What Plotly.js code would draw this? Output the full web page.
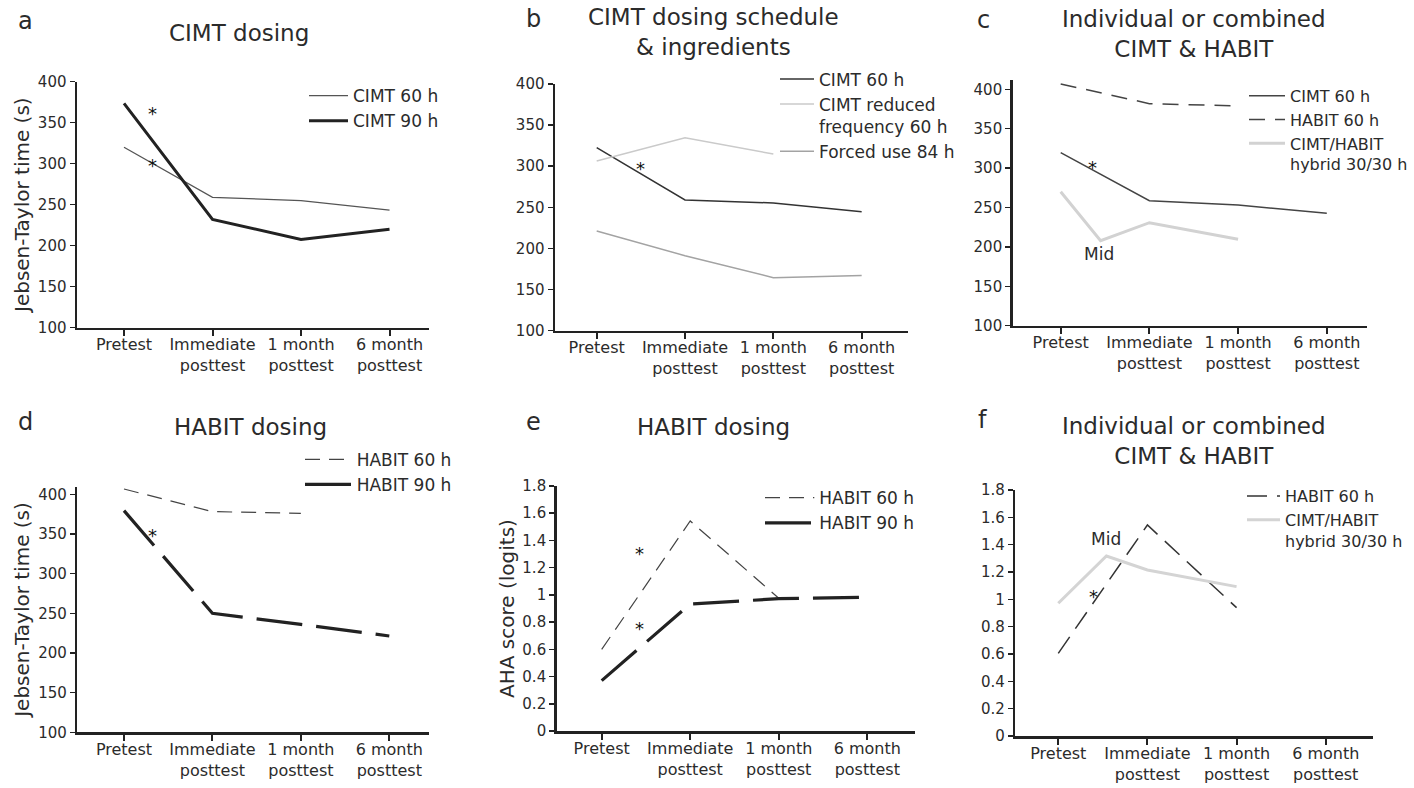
<!DOCTYPE html>
<html><head><meta charset="utf-8">
<script src="https://cdn.plot.ly/plotly-3.0.1.min.js"></script>
<style>html,body{margin:0;padding:0;background:#fff;overflow:hidden}#chart{width:1414px;height:788px}</style>
</head><body><div id="chart"></div>
<script>
// ---------- data ----------
const timepoints = [0, 1, 2, 3];
const timeLabels = ['Pretest', 'Immediate<br>posttest', '1 month<br>posttest', '6 month<br>posttest'];
const jtTicks = [100, 150, 200, 250, 300, 350, 400];
const ahaTicks = [0, 0.2, 0.4, 0.6, 0.8, 1, 1.2, 1.4, 1.6, 1.8];
const ahaTickText = ['0', '0.2', '0.4', '0.6', '0.8', '1', '1.2', '1.4', '1.6', '1.8'];

// a: CIMT dosing (Jebsen-Taylor time, s)
const a_cimt60 = [320, 259, 255, 243.5];
const a_cimt90 = [373.6, 232, 207.7, 220];
// b: CIMT dosing schedule & ingredients
const b_cimt60 = [322.6, 259, 255.3, 244.7];
const b_reducedX = [0, 1, 2];
const b_reduced = [306.4, 334.7, 314.9];
const b_forced = [221.2, 191.2, 164.5, 167];
// c: Individual or combined CIMT & HABIT
const c_cimt60 = [319.6, 258.7, 253.2, 242.6];
const c_habit60X = [0, 1, 2];
const c_habit60 = [406.8, 381.8, 378.8];
const c_hybridX = [0, 0.45, 1, 2];
const c_hybrid = [270, 207.9, 230.7, 209.6];
// d: HABIT dosing (Jebsen-Taylor)
const d_habit60X = [0, 1, 2];
const d_habit60 = [406.7, 378.2, 376];
const d_habit90 = [379.4, 250, 236, 221.4];
// e: HABIT dosing (AHA logits)
const e_habit60X = [0, 1, 2];
const e_habit60 = [0.6, 1.543, 0.975];
const e_habit90 = [0.37, 0.933, 0.972, 0.982];
// f: Individual or combined (AHA logits)
const f_habit60X = [0, 1, 2];
const f_habit60 = [0.605, 1.544, 0.939];
const f_hybridX = [0, 0.54, 1, 2];
const f_hybrid = [0.971, 1.317, 1.215, 1.093];

// ---------- layout helpers ----------
const W = 1414, H = 788;
const px = (l, r) => [l / W, r / W];
const py = (top, bottom) => [1 - bottom / H, 1 - top / H];
const FONT = 'DejaVu Sans, sans-serif';
const INK = '#2b2b2b';

function xax(domain, range, anchor) {
  return {domain, range, anchor, tickmode: 'array', tickvals: timepoints, ticktext: timeLabels,
    showline: true, linewidth: 2.5, linecolor: '#222', ticks: 'outside', ticklen: 6, tickwidth: 2,
    tickcolor: '#222', showgrid: false, zeroline: false, fixedrange: true, ticklabelstandoff: -5,
    tickfont: {family: FONT, size: 16, color: INK}};
}
function yax(domain, range, anchor, tv, tt, title) {
  const o = {domain, range, anchor, tickmode: 'array', tickvals: tv, ticktext: tt,
    showline: true, linewidth: 2.5, linecolor: '#222', ticks: 'outside', ticklen: 5, tickwidth: 1.5,
    tickcolor: '#222', showgrid: false, zeroline: false, fixedrange: true,
    tickfont: {family: FONT, size: 15, color: INK}};
  if (title) o.title = {text: title, font: {family: FONT, size: 20, color: INK}, standoff: 3};
  return o;
}
function leg(x, top, iw, valign, fs) {
  return {x: x / W, y: 1 - top / H, xanchor: 'left', yanchor: 'top', itemwidth: iw,
    bgcolor: 'rgba(0,0,0,0)', borderwidth: 0, valign: valign || 'middle',
    font: {family: FONT, size: fs || 17, color: INK}, itemclick: false, itemdoubleclick: false};
}
const jtText = jtTicks.map(String);

const traces = [
  // a
  {x: timepoints, y: a_cimt60, xaxis: 'x', yaxis: 'y', name: 'CIMT 60 h', legend: 'legend',
   mode: 'lines', line: {color: '#555', width: 1.3}},
  {x: timepoints, y: a_cimt90, xaxis: 'x', yaxis: 'y', name: 'CIMT 90 h', legend: 'legend',
   mode: 'lines', line: {color: '#222', width: 3}},
  // b
  {x: timepoints, y: b_cimt60, xaxis: 'x2', yaxis: 'y2', name: 'CIMT 60 h', legend: 'legend2',
   mode: 'lines', line: {color: '#333', width: 1.5}},
  {x: b_reducedX, y: b_reduced, xaxis: 'x2', yaxis: 'y2', name: 'CIMT reduced<br>frequency 60 h', legend: 'legend2',
   mode: 'lines', line: {color: '#cacaca', width: 1.5}},
  {x: timepoints, y: b_forced, xaxis: 'x2', yaxis: 'y2', name: 'Forced use 84 h', legend: 'legend2',
   mode: 'lines', line: {color: '#a3a3a3', width: 1.5}},
  // c
  {x: timepoints, y: c_cimt60, xaxis: 'x3', yaxis: 'y3', name: 'CIMT 60 h', legend: 'legend3',
   mode: 'lines', line: {color: '#444', width: 1.5}},
  {x: c_habit60X, y: c_habit60, xaxis: 'x3', yaxis: 'y3', name: 'HABIT 60 h', legend: 'legend3',
   mode: 'lines', line: {color: '#444', width: 1.5, dash: '16px,10px'}},
  {x: c_hybridX, y: c_hybrid, xaxis: 'x3', yaxis: 'y3', name: 'CIMT/HABIT<br>hybrid 30/30 h', legend: 'legend3',
   mode: 'lines', line: {color: '#d2d2d2', width: 3}},
  // d
  {x: d_habit60X, y: d_habit60, xaxis: 'x4', yaxis: 'y4', name: 'HABIT 60 h', legend: 'legend4',
   mode: 'lines', line: {color: '#444', width: 1.2, dash: '15px,9px'}},
  {x: timepoints, y: d_habit90, xaxis: 'x4', yaxis: 'y4', name: 'HABIT 90 h', legend: 'legend4',
   mode: 'lines', line: {color: '#222', width: 3.2, dash: '46px,14px'}},
  // e
  {x: e_habit60X, y: e_habit60, xaxis: 'x5', yaxis: 'y5', name: 'HABIT 60 h', legend: 'legend5',
   mode: 'lines', line: {color: '#444', width: 1.2, dash: '15px,9px'}},
  {x: timepoints, y: e_habit90, xaxis: 'x5', yaxis: 'y5', name: 'HABIT 90 h', legend: 'legend5',
   mode: 'lines', line: {color: '#222', width: 3.2, dash: '46px,14px'}},
  // f
  {x: f_habit60X, y: f_habit60, xaxis: 'x6', yaxis: 'y6', name: 'HABIT 60 h', legend: 'legend6',
   mode: 'lines', line: {color: '#333', width: 1.5, dash: '20px,10px'}},
  {x: f_hybridX, y: f_hybrid, xaxis: 'x6', yaxis: 'y6', name: 'CIMT/HABIT<br>hybrid 30/30 h', legend: 'legend6',
   mode: 'lines', line: {color: '#d4d4d4', width: 3}}
];

function txt(text, x, y, size, xref, yref, extra) {
  return Object.assign({text, x, y, xref: xref || 'paper', yref: yref || 'paper', showarrow: false,
    xanchor: 'center', yanchor: 'middle', font: {family: FONT, size, color: INK}}, extra || {});
}
function star(x, y, n) {
  return txt('*', x, y, 18, 'x' + (n > 1 ? n : ''), 'y' + (n > 1 ? n : ''),
    {yshift: -5, font: {family: FONT, size: 18, color: '#111'}});
}
const P = (x) => x / W, Q = (y) => 1 - y / H;

const annotations = [
  // panel letters
  txt('a', P(25.7), Q(21), 24), txt('b', P(533), Q(19.5), 24), txt('c', P(983), Q(20.5), 24),
  txt('d', P(25), Q(422), 24), txt('e', P(533.3), Q(422), 24), txt('f', P(982.7), Q(420), 24),
  // panel titles
  txt('CIMT dosing', P(239.3), Q(33.3), 23),
  txt('CIMT dosing schedule<br>&amp; ingredients', P(713), Q(31.7), 23),
  txt('Individual or combined<br>CIMT &amp; HABIT', P(1194.3), Q(33.8), 23),
  txt('HABIT dosing', P(250), Q(427.3), 23),
  txt('HABIT dosing', P(713.3), Q(427.3), 23),
  txt('Individual or combined<br>CIMT &amp; HABIT', P(1194), Q(440.5), 23),
  // significance marks
  star(0.32, 367.5, 1), star(0.32, 304.5, 1),
  star(0.5, 303.5, 2),
  star(0.36, 307.3, 3),
  star(0.32, 355, 4),
  star(0.43, 1.342, 5), star(0.43, 0.791, 5),
  star(0.39, 1.056, 6),
  // Mid labels
  txt('Mid', 0.43, 191, 17, 'x3', 'y3'),
  txt('Mid', 0.54, 1.439, 17, 'x6', 'y6')
];

const layout = {
  width: W, height: H, margin: {l: 0, r: 0, t: 0, b: 0, autoexpand: false},
  paper_bgcolor: '#fff', plot_bgcolor: 'rgba(0,0,0,0)', showlegend: true,
  font: {family: FONT, color: INK},
  xaxis: xax(px(77, 429), [-0.531, 3.446], 'y'),
  yaxis: yax(py(81.7, 327.7), [100, 400], 'x', jtTicks, jtText, 'Jebsen-Taylor time (s)'),
  xaxis2: xax(px(555, 908.3), [-0.472, 3.528], 'y2'),
  yaxis2: yax(py(84, 330.7), [100, 400], 'x2', jtTicks, jtText),
  xaxis3: xax(px(1012.7, 1366.7), [-0.541, 3.45], 'y3'),
  yaxis3: yax(py(80, 325.7), [100, 411.8], 'x3', jtTicks, jtText),
  xaxis4: xax(px(77.3, 429), [-0.528, 3.449], 'y4'),
  yaxis4: yax(py(486.7, 732.3), [100, 409.6], 'x4', jtTicks, jtText, 'Jebsen-Taylor time (s)'),
  xaxis5: xax(px(556.7, 915), [-0.508, 3.539], 'y5'),
  yaxis5: yax(py(486, 731), [0, 1.8], 'x5', ahaTicks, ahaTickText, 'AHA score (logits)'),
  xaxis6: xax(px(1015.3, 1372.7), [-0.482, 3.527], 'y6'),
  yaxis6: yax(py(490, 736), [0, 1.8], 'x6', ahaTicks, ahaTickText),
  legend: leg(304, 78.15, 39),
  legend2: leg(775, 61.45, 34, 'top'),
  legend3: leg(1244, 78.8, 36, 'top', 16),
  legend4: leg(300, 441.75, 46.7),
  legend5: leg(760, 480.15, 49.3),
  legend6: leg(1242, 479.1, 33, 'top', 16),
  annotations
};

Plotly.newPlot('chart', traces, layout, {displayModeBar: false, staticPlot: true});
</script>
</body></html>
